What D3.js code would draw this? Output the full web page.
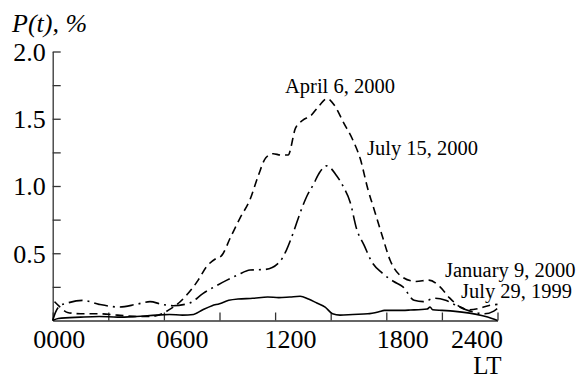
<!DOCTYPE html>
<html>
<head>
<meta charset="utf-8">
<script src="https://cdn.jsdelivr.net/npm/d3@7"></script>
<style>
  body { margin: 0; background: #fff; }
  svg { display: block; }
  text { font-family: "Liberation Serif", "Times New Roman", serif; fill: #000; }
</style>
</head>
<body>
<svg id="chart" width="587" height="381"></svg>
<script>
// April 6, 2000 (dashed)
const aprilHours  = [0.1, 0.4, 0.8, 1.5, 2.5, 3.5, 4.5, 5.3, 5.9, 6.4, 6.8, 7.3, 7.85, 8.3, 8.8, 9.1, 9.6, 10.1, 10.65, 11.1, 11.5, 11.9, 12.3, 12.7, 13.1, 13.5, 13.9, 14.4, 14.8, 15.2, 15.7, 16.2, 16.6, 17.0, 17.4, 17.8, 18.2, 18.9, 19.6, 20.3, 20.9, 21.4, 22.0, 22.5, 23.0, 23.5, 24.0];
const aprilValues = [0.14, 0.10, 0.06, 0.05, 0.05, 0.04, 0.03, 0.03, 0.05, 0.09, 0.13, 0.20, 0.30, 0.40, 0.46, 0.48, 0.62, 0.76, 0.90, 1.08, 1.21, 1.24, 1.23, 1.23, 1.43, 1.49, 1.52, 1.60, 1.65, 1.60, 1.47, 1.34, 1.20, 0.98, 0.80, 0.62, 0.45, 0.32, 0.29, 0.30, 0.25, 0.17, 0.10, 0.08, 0.09, 0.11, 0.12];

// July 15, 2000 (dash-dot)
const julyHours  = [0, 0.15, 0.4, 0.8, 1.6, 2.5, 3.6, 4.5, 5.25, 5.9, 6.5, 7.4, 8.1, 8.85, 9.4, 10.0, 10.65, 11.5, 12.27, 12.6, 13.0, 13.35, 13.7, 14.06, 14.4, 14.79, 15.3, 15.7, 16.05, 16.4, 16.8, 17.2, 17.8, 18.4, 18.9, 19.5, 20.0, 20.6, 21.2, 21.8, 22.3, 22.8, 23.3, 23.8, 24.0];
const julyValues = [0.0, 0.06, 0.11, 0.13, 0.15, 0.12, 0.10, 0.12, 0.14, 0.12, 0.11, 0.13, 0.20, 0.26, 0.30, 0.34, 0.375, 0.38, 0.44, 0.52, 0.66, 0.80, 0.92, 1.01, 1.10, 1.15, 1.08, 0.99, 0.88, 0.68, 0.56, 0.44, 0.35, 0.29, 0.25, 0.15, 0.14, 0.165, 0.15, 0.11, 0.08, 0.06, 0.05, 0.07, 0.09];

// low solid curve
const solidHours  = [0, 0.3, 1.5, 2.5, 3.5, 4.5, 5.6, 6.3, 7.0, 7.6, 8.1, 8.6, 9.0, 9.5, 10.0, 10.8, 11.6, 12.2, 12.8, 13.35, 13.8, 14.25, 14.7, 15.1, 15.5, 16.2, 17.0, 17.6, 17.9, 18.6, 19.3, 20.2, 20.36, 20.5, 21.0, 21.6, 22.5, 23.2, 23.7, 24.0];
const solidValues = [0.0, 0.015, 0.025, 0.03, 0.025, 0.03, 0.04, 0.045, 0.04, 0.045, 0.08, 0.11, 0.125, 0.15, 0.16, 0.165, 0.175, 0.17, 0.175, 0.18, 0.16, 0.13, 0.10, 0.05, 0.04, 0.045, 0.05, 0.065, 0.075, 0.075, 0.078, 0.085, 0.10, 0.08, 0.075, 0.07, 0.055, 0.035, 0.015, 0.0];

const yTicks = [0.25, 0.5, 0.75, 1.0, 1.25, 1.5, 1.75, 2.0];
const xTicks = [0, 3, 6, 9, 12, 15, 18, 21, 24];

const svg = d3.select("#chart");

const x = d3.scaleLinear().domain([0, 24]).range([52.7, 497.5]);
const y = d3.scaleLinear().domain([0, 2]).range([320.5, 51.5]);

// Y axis, ticks pointing inward
const yAxis = svg.append("g")
  .attr("transform", "translate(" + x(0) + ",0)")
  .call(d3.axisLeft(y)
    .tickValues(yTicks)
    .tickSize(-8)
    .tickSizeOuter(0)
    .tickPadding(7)
    .tickFormat(d => (d * 2) % 1 === 0 ? d.toFixed(1) : ""));
yAxis.selectAll("text").style("font-size", "26px").attr("dy", "0.34em");

// X axis
const labelShift = {0: 6, 6: 18, 12: 15, 18: 16, 24: -21};
const xAxis = svg.append("g")
  .attr("transform", "translate(0," + y(0) + ")")
  .call(d3.axisBottom(x)
    .tickValues(xTicks)
    .tickSize(-8)
    .tickSizeOuter(0)
    .tickPadding(9)
    .tickFormat(d => d % 6 === 0 ? String(d * 100).padStart(4, "0") : ""));
xAxis.selectAll("text").style("font-size", "26px")
  .attr("dx", d => labelShift[d] || 0);

svg.selectAll(".domain, .tick line").attr("stroke", "#333").attr("stroke-width", 1.3);

// curves
const line = d3.line()
  .x(d => x(d[0]))
  .y(d => y(d[1]))
  .curve(d3.curveMonotoneX);

const series = [
  {h: aprilHours, v: aprilValues, dash: "8,5"},
  {h: julyHours,  v: julyValues,  dash: "14,5,2,5"},
  {h: solidHours, v: solidValues, dash: null}
];

series.forEach(s => {
  svg.append("path")
    .datum(d3.zip(s.h, s.v))
    .attr("d", line)
    .attr("fill", "none")
    .attr("stroke", "#000")
    .attr("stroke-width", 1.6)
    .attr("stroke-dasharray", s.dash);
});

// titles
svg.append("text")
  .attr("x", 12).attr("y", 32)
  .style("font-size", "26px").style("font-style", "italic")
  .text("P(t), %");

svg.append("text")
  .attr("x", x(24) + 4).attr("y", 374)
  .attr("text-anchor", "end")
  .style("font-size", "25px")
  .text("LT");

// curve annotations
const notes = [
  {t: "April 6, 2000", x: 285, y: 93},
  {t: "July 15, 2000", x: 367, y: 155},
  {t: "January 9, 2000", x: 445, y: 277},
  {t: "July 29, 1999", x: 461, y: 298}
];
svg.selectAll(".note").data(notes).enter().append("text")
  .attr("class", "note")
  .attr("x", d => d.x).attr("y", d => d.y)
  .style("font-size", "20.5px")
  .text(d => d.t);
</script>
</body>
</html>
